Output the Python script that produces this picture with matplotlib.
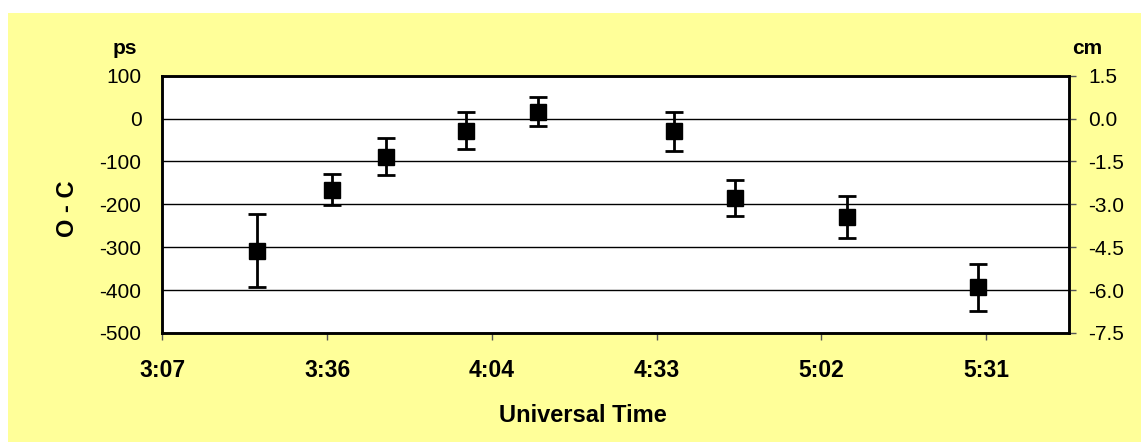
import matplotlib.pyplot as plt
from matplotlib.patches import Rectangle
from matplotlib.ticker import FuncFormatter

plt.rcParams["font.family"] = ["Liberation Sans", "DejaVu Sans"]
plt.rcParams["axes.unicode_minus"] = False

# time of each point, minutes after 0:00 UT
ut_minutes = [203.7, 216.8, 226.3, 240.2, 252.8, 276.6, 287.2, 306.9, 329.7]
# O - C residuals in ps and their error bars
o_minus_c = [-308, -166, -89, -28, 16, -30, -186, -229, -393]
errors = [85, 36, 43, 44, 34, 45, 42, 49, 55]

# axis: 3:07.2 (0.13 day) to 5:45.6 (0.24 day), step 28.8 min (0.02 day)
x_ticks = [187.2, 216.0, 244.8, 273.6, 302.4, 331.2]
ps_to_cm = 0.015


def time_label(m, pos=None):
    return "%d:%02d" % (int(m // 60), int(m % 60))


fig = plt.figure(figsize=(11.41, 4.42), dpi=100)
fig.patches.append(Rectangle((8 / 1141, 0), 1 - 8 / 1141, 1 - 13 / 442,
                             transform=fig.transFigure, facecolor="#FFFF99",
                             edgecolor="none", zorder=-10))

ax = fig.add_axes([162.3 / 1141, 1 - 333 / 442, 906.4 / 1141, 257.3 / 442])
ax.set_facecolor("white")
ax.errorbar(ut_minutes, o_minus_c, yerr=errors, fmt="s", color="black",
            markersize=12, elinewidth=2, capsize=6.5, capthick=2, zorder=3)

ax.set_xlim(187.2, 345.6)
ax.set_ylim(-500, 100)
ax.set_xticks(x_ticks)
ax.xaxis.set_major_formatter(FuncFormatter(time_label))
ax.set_yticks(range(-500, 101, 100))
ax.grid(axis="y", color="black", linewidth=1)
ax.set_axisbelow(True)
for side in ax.spines.values():
    side.set_linewidth(1.8)

ax.tick_params(axis="y", length=0, pad=15, labelsize=15)
ax.tick_params(axis="x", length=5, width=1, color="#555555", direction="out",
               pad=14, labelsize=16.5)
for label in ax.get_xticklabels():
    label.set_fontweight("bold")

ax2 = ax.twinx()
ax2.set_ylim(-500 * ps_to_cm, 100 * ps_to_cm)
ax2.set_yticks([1.5, 0.0, -1.5, -3.0, -4.5, -6.0, -7.5])
ax2.yaxis.set_major_formatter(FuncFormatter(lambda v, p: "%.1f" % v))
ax2.tick_params(axis="y", length=5, width=1, color="#555555", pad=9, labelsize=15)
for side in ax2.spines.values():
    side.set_linewidth(1.8)

fig.text(583 / 1141, 1 - 415 / 442, "Universal Time", ha="center", va="center",
         fontsize=17, fontweight="bold")
fig.text(68 / 1141, 1 - 209 / 442, "O - C", ha="center", va="center",
         rotation=90, fontsize=17, fontweight="bold")
fig.text(125 / 1141, 1 - 48 / 442, "ps", ha="center", va="center",
         fontsize=15, fontweight="bold")
fig.text(1087 / 1141, 1 - 48 / 442, "cm", ha="center", va="center",
         fontsize=15, fontweight="bold")

plt.savefig("out.png", dpi=100)
